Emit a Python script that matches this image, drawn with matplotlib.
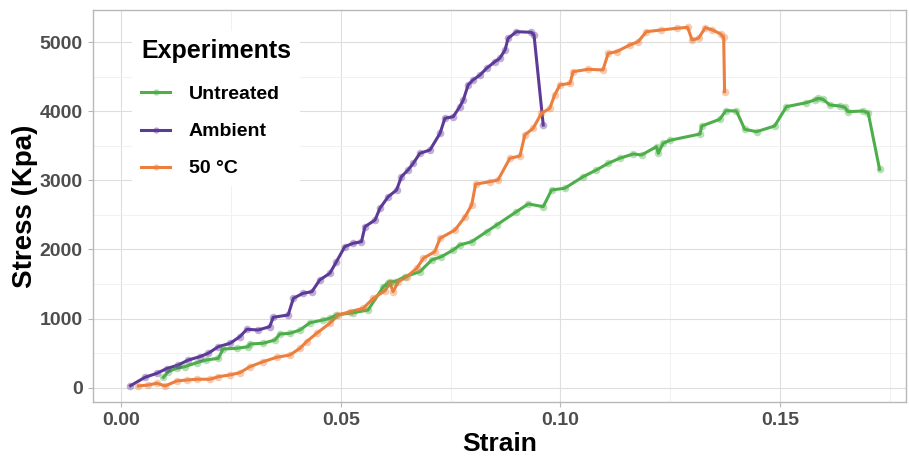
import numpy as np
import matplotlib
matplotlib.use('Agg')
import matplotlib.pyplot as plt
from matplotlib.ticker import MultipleLocator, FormatStrFormatter

plt.rcParams['font.family'] = ['Liberation Sans', 'DejaVu Sans']

# Ambient
amb_x = [0.0021, 0.0054, 0.0081, 0.0103, 0.0130, 0.0153, 0.0179, 0.0198, 0.0221, 0.0248,
         0.0270, 0.0286, 0.0312, 0.0338, 0.0346, 0.0380, 0.0392, 0.0414, 0.0434, 0.0452,
         0.0475, 0.0490, 0.0509, 0.0528, 0.0547, 0.0555, 0.0578, 0.0589, 0.0608, 0.0627,
         0.0638, 0.0653, 0.0665, 0.0680, 0.0703, 0.0726, 0.0737, 0.0756, 0.0771, 0.0779,
         0.0790, 0.0801, 0.0817, 0.0832, 0.0851, 0.0862, 0.0874, 0.0881, 0.0900, 0.0934,
         0.0940, 0.0961]
amb_y = [29, 150, 208, 275, 329, 401, 449, 498, 593, 643,
         738, 845, 835, 883, 1019, 1052, 1294, 1366, 1389, 1559,
         1656, 1823, 2041, 2090, 2113, 2330, 2427, 2596, 2764, 2861,
         3054, 3150, 3247, 3392, 3440, 3682, 3899, 3922, 4067, 4164,
         4381, 4453, 4525, 4622, 4718, 4767, 4887, 5056, 5152, 5143,
         5104, 3802]

# 50 °C
hot_x = [0.0039, 0.0062, 0.0081, 0.0100, 0.0126, 0.0149, 0.0172, 0.0202, 0.0221, 0.0247,
         0.0270, 0.0293, 0.0323, 0.0354, 0.0384, 0.0407, 0.0422, 0.0445, 0.0475, 0.0494,
         0.0521, 0.0551, 0.0574, 0.0600, 0.0612, 0.0619, 0.0631, 0.0650, 0.0673, 0.0688,
         0.0714, 0.0726, 0.0760, 0.0783, 0.0798, 0.0807, 0.0839, 0.0858, 0.0885, 0.0908,
         0.0919, 0.0938, 0.0957, 0.0976, 0.0987, 0.0999, 0.1022, 0.1029, 0.1063, 0.1097,
         0.1109, 0.1128, 0.1158, 0.1177, 0.1196, 0.1230, 0.1265, 0.1290, 0.1300, 0.1315,
         0.1330, 0.1345, 0.1365, 0.1372, 0.1374]
hot_y = [25, 39, 64, 25, 97, 111, 122, 122, 159, 184,
         217, 304, 376, 440, 473, 570, 666, 787, 932, 1052,
         1100, 1149, 1294, 1400, 1511, 1389, 1534, 1606, 1728, 1873,
         1968, 2162, 2282, 2475, 2644, 2945, 2981, 3006, 3320, 3353,
         3657, 3754, 3971, 4043, 4236, 4381, 4405, 4573, 4608, 4598,
         4839, 4863, 4959, 5007, 5152, 5177, 5201, 5215, 5030, 5060,
         5210, 5180, 5120, 5070, 4284]

# Untreated
unt_x = [0.0096, 0.0107, 0.0126, 0.0145, 0.0172, 0.0194, 0.0221, 0.0232, 0.0263, 0.0289,
         0.0293, 0.0323, 0.0350, 0.0361, 0.0384, 0.0407, 0.0430, 0.0460, 0.0475, 0.0490,
         0.0528, 0.0562, 0.0597, 0.0608, 0.0612, 0.0623, 0.0646, 0.0680, 0.0707, 0.0729,
         0.0756, 0.0771, 0.0798, 0.0832, 0.0855, 0.0900, 0.0927, 0.0961, 0.0980, 0.1010,
         0.1052, 0.1082, 0.1109, 0.1135, 0.1166, 0.1185, 0.1219, 0.1223, 0.1234, 0.1250,
         0.1318, 0.1322, 0.1363, 0.1377, 0.1401, 0.1420, 0.1447, 0.1488, 0.1515, 0.1560,
         0.1579, 0.1587, 0.1598, 0.1614, 0.1636, 0.1648, 0.1655, 0.1689, 0.1701, 0.1727]
unt_y = [150, 232, 281, 304, 362, 401, 425, 560, 570, 593,
         632, 643, 690, 777, 787, 835, 941, 980, 1004, 1052,
         1085, 1124, 1462, 1519, 1534, 1534, 1606, 1679, 1848, 1896,
         1993, 2065, 2113, 2258, 2355, 2547, 2659, 2620, 2861, 2886,
         3054, 3150, 3247, 3320, 3382, 3368, 3488, 3392, 3537, 3581,
         3671, 3787, 3884, 4009, 4004, 3739, 3705, 3787, 4067, 4124,
         4163, 4188, 4174, 4091, 4077, 4058, 3994, 4004, 3980, 3161]

series = [('Untreated', unt_x, unt_y, '#4DAF4A'),
          ('Ambient', amb_x, amb_y, '#5E3A98'),
          ('50 °C', hot_x, hot_y, '#EC7E3E')]

fig = plt.figure(figsize=(9.09, 4.58), dpi=100)
ax = fig.add_axes([0.1026, 0.1229, 0.894, 0.8553])

for name, xs, ys, col in series:
    ax.plot(xs, ys, color=col, lw=2.2, zorder=3)
    ax.scatter(xs, ys, s=30, color=col, alpha=0.4, lw=0, zorder=4)

# legend proxies: line with a faint dot
handles = []
for name, xs, ys, col in series:
    h, = ax.plot([], [], color=col, lw=2.2, marker='o', markersize=4.5,
                 markeredgewidth=0)
    handles.append(h)
leg = ax.legend(handles, [s[0] for s in series], title='Experiments',
                loc='upper left', bbox_to_anchor=(0.036, 0.972),
                frameon=True, facecolor='white', edgecolor='none', framealpha=1,
                fancybox=False, handlelength=1.5, handletextpad=0.95,
                labelspacing=1.0, borderpad=0.45,
                prop={'weight': 'bold', 'size': 14},
                title_fontproperties={'weight': 'bold', 'size': 18},
                alignment='left')
leg.set_zorder(5)
for lh in leg.legend_handles:
    lh.set_markerfacecolor(matplotlib.colors.to_rgba(lh.get_color(), 0.45))
leg._legend_box.sep = 16

ax.set_xlim(-0.00638, 0.1787)
ax.set_ylim(-203, 5466)
ax.xaxis.set_major_locator(MultipleLocator(0.05))
ax.xaxis.set_minor_locator(MultipleLocator(0.025))
ax.yaxis.set_major_locator(MultipleLocator(1000))
ax.yaxis.set_minor_locator(MultipleLocator(500))
ax.xaxis.set_major_formatter(FormatStrFormatter('%.2f'))

ax.grid(which='major', color='#DEDEDE', lw=0.8, zorder=0)
ax.grid(which='minor', color='#EFEFEF', lw=0.6, zorder=0)
ax.set_axisbelow(True)
for sp in ax.spines.values():
    sp.set_color('#B8B8B8')
    sp.set_linewidth(1.0)
ax.tick_params(which='major', length=3.5, color='#B8B8B8', labelsize=14,
               labelcolor='#4D4D4D', pad=4)
ax.tick_params(which='minor', length=0)
for lab in ax.get_xticklabels() + ax.get_yticklabels():
    lab.set_fontweight('bold')

ax.set_xlabel('Strain', fontsize=19, fontweight='bold', labelpad=2)
ax.set_ylabel('Stress (Kpa)', fontsize=20, fontweight='bold', labelpad=1)

fig.savefig('out.png', dpi=100)
